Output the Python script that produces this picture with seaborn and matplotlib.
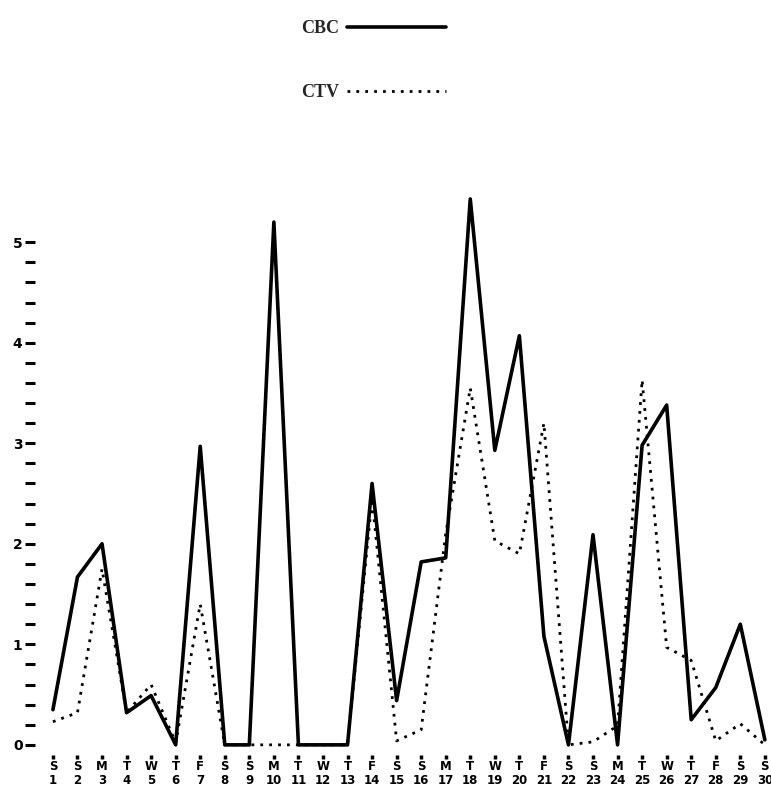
import matplotlib
matplotlib.use("Agg")
import matplotlib.pyplot as plt
import seaborn as sns
import pandas as pd

# days of the month and weekday initials
days = list(range(1, 31))
weekdays = ["S", "S", "M", "T", "W", "T", "F"] * 5
weekdays = weekdays[:30]

# values
cbc = [0.35, 1.67, 2.0, 0.32, 0.49, 0.0, 2.97, 0.0, 0.0, 5.2,
       0.0, 0.0, 0.0, 2.6, 0.44, 1.82, 1.86, 5.43, 2.93, 4.07,
       1.08, 0.0, 2.09, 0.0, 2.98, 3.38, 0.25, 0.57, 1.2, 0.05]
ctv = [0.23, 0.32, 1.75, 0.32, 0.6, 0.02, 1.4, 0.0, 0.0, 0.0,
       0.0, 0.0, 0.0, 2.45, 0.04, 0.15, 2.1, 3.55, 2.03, 1.9,
       3.2, 0.0, 0.03, 0.19, 3.63, 0.97, 0.84, 0.04, 0.21, 0.0]

df = pd.DataFrame({"day": days, "CBC": cbc, "CTV": ctv})

sns.set_style("white")
fig = plt.figure(figsize=(7.71, 7.89), dpi=100)
ax = fig.add_axes([35 / 771, 0.0432, 736 / 771, 0.739])

sns.lineplot(data=df, x="day", y="CTV", ax=ax, color="black",
             linewidth=2.0, linestyle=(0, (1, 2.2)), label="CTV")
sns.lineplot(data=df, x="day", y="CBC", ax=ax, color="black",
             linewidth=2.6, label="CBC")

ax.set_xlim(0.27, 30.25)
ax.set_ylim(-0.1, 5.7)
for s in ax.spines.values():
    s.set_visible(False)

ax.set_xticks(days)
ax.set_xticklabels([f"{w}\n{d}" for w, d in zip(weekdays, days)],
                   fontsize=8.5, fontweight="bold", linespacing=1.1)
ax.tick_params(axis="x", bottom=True, direction="out", length=3, width=2.5,
               pad=1, colors="black")

ax.set_yticks([0, 1, 2, 3, 4, 5])
ax.set_yticks([i * 0.2 for i in range(26)], minor=True)
ax.set_yticklabels(["0", "1", "2", "3", "4", "5"], fontsize=10, fontweight="bold")
ax.tick_params(axis="y", which="both", left=True, direction="out", length=7,
               width=2.2, pad=2, colors="black")
ax.set_xlabel("")
ax.set_ylabel("")

handles, labels = ax.get_legend_handles_labels()
order = [1, 0]
ax.legend([handles[i] for i in order], [labels[i] for i in order],
          loc="upper left", bbox_to_anchor=(0.37, 0.995),
          bbox_transform=fig.transFigure, frameon=False, markerfirst=False,
          handlelength=5.5, handletextpad=0.4, labelspacing=2.6,
          prop={"family": "Liberation Serif", "size": 13, "weight": "bold"})

fig.savefig("out.png", dpi=100)
